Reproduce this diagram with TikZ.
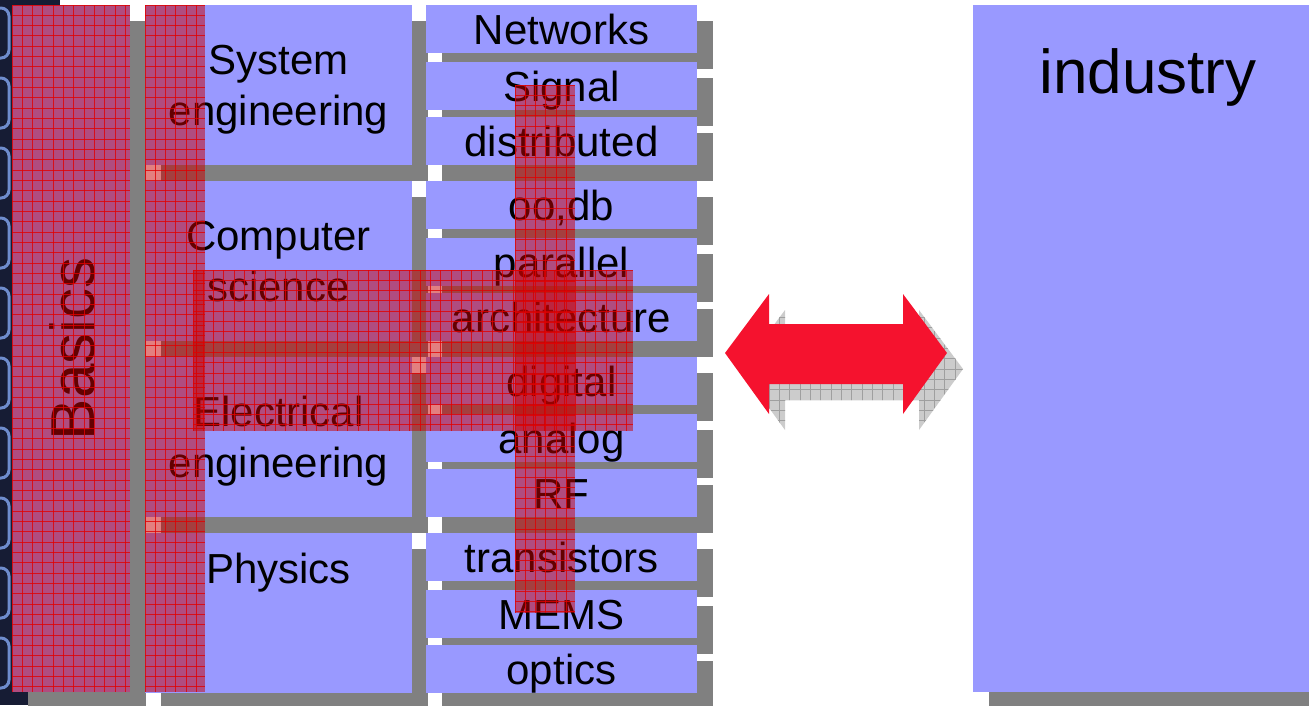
\documentclass[tikz,border=0pt]{standalone}
\usepackage{fontspec}
\setmainfont{Liberation Sans}
\usepackage{tikz}
\usetikzlibrary{shadows}
\definecolor{boxblue}{RGB}{153,153,255}
\definecolor{shadowgray}{RGB}{128,128,128}
\definecolor{gridred}{RGB}{200,0,0}
\definecolor{linered}{RGB}{225,0,0}
\definecolor{arrowred}{RGB}{245,18,46}
\definecolor{bgnavy}{RGB}{22,28,52}
\definecolor{iconblue}{RGB}{110,140,205}

\begin{document}
\begin{tikzpicture}[x=1pt, y=-1pt,
    box/.style={fill=boxblue, inner sep=0pt,
        drop shadow={shadow xshift=16pt, shadow yshift=-16pt, fill=shadowgray, opacity=1}},
    field/.style={box, minimum width=267pt, minimum height=160pt, align=center,
        text depth=0pt, font=\fontsize{42}{51}\selectfont},
    topic/.style={box, minimum width=271pt, minimum height=48pt,
        text height=30pt, text depth=0pt, font=\fontsize{42}{51}\selectfont},
    bigtext/.style={anchor=base, font=\fontsize{62}{70}\selectfont}]

                \useasboundingbox (0,0) rectangle (1309,705);
                \clip (0,0) rectangle (1309,705);

                % Background strip
                \fill[bgnavy] (0,0) rectangle (60,705);
                \foreach \iy in {0,70,...,700}
                    \draw[iconblue, line width=3pt, rounded corners=8pt] (-12,\iy+8) rectangle (9,\iy+58);

                % Nodes
                \node[box, minimum width=118pt, minimum height=687pt] (basics) at (71,348.5) {};
                \node[bigtext, rotate=90] (basicslabel) at (94,349) {Basics};

                \node[field] (syseng) at (278.5,85) {System\\engineering};
                \node[field] (compsci) at (278.5,261) {Computer\\science};
                \node[field] (eleceng) at (278.5,437) {Electrical\\engineering};
                \node[field] (phys) at (278.5,613) {};
                \node[anchor=base, font=\fontsize{42}{51}\selectfont] (physlabel) at (278.5,583) {Physics};

                \node[topic] (networks) at (561.5,29) {Networks};
                \node[topic] (signal) at (561.5,86) {Signal};
                \node[topic] (distrib) at (561.5,141) {distributed};
                \node[topic] (oodb) at (561.5,205) {oo,db};
                \node[topic] (parallel) at (561.5,262) {parallel};
                \node[topic] (archi) at (561.5,317) {architecture};
                \node[topic] (digital) at (561.5,381) {digital};
                \node[topic] (analog) at (561.5,438) {analog};
                \node[topic] (rf) at (561.5,493) {RF};
                \node[topic] (transist) at (561.5,557) {transistors};
                \node[topic] (mems) at (561.5,614) {MEMS};
                \node[topic] (optics) at (561.5,669) {optics};

                \node[box, minimum width=357pt, minimum height=687pt] (industry) at (1151.5,348.5) {};
                \node[bigtext] (industrylabel) at (1148,93) {industry};

                % Arrows
                \begin{scope}[shift={(16,16)}]
                    \path[fill=gray!40] (725,353) -- (769,294) -- (769,324) -- (903,324) -- (903,294)
                        -- (947,353) -- (903,414) -- (903,384) -- (769,384) -- (769,414) -- cycle;
                    \clip (725,353) -- (769,294) -- (769,324) -- (903,324) -- (903,294)
                        -- (947,353) -- (903,414) -- (903,384) -- (769,384) -- (769,414) -- cycle;
                    \foreach \k in {0,...,22}
                        \draw[gray!75, line width=0.8pt] (722+\k*10.33,290) -- ++(0,130);
                    \foreach \k in {0,...,12}
                        \draw[gray!75, line width=0.8pt] (720,291+\k*10.33) -- ++(230,0);
                \end{scope}
                \fill[arrowred] (725,353) -- (769,294) -- (769,324) -- (903,324) -- (903,294)
                    -- (947,353) -- (903,414) -- (903,384) -- (769,384) -- (769,414) -- cycle;

                % Red grids
                \foreach \xa/\ya/\xb/\yb in {12/5/130/692, 145/5/205/692, 193/270/633/431, 515/85/575/613} {
                    \fill[gridred, opacity=0.5] (\xa,\ya) rectangle (\xb,\yb);
                    \begin{scope}
                        \clip (\xa,\ya) rectangle (\xb,\yb);
                        \foreach \k in {0,...,67} {
                            \draw[linered, opacity=0.8, line width=1pt] (\xa+\k*10.33,\ya) -- (\xa+\k*10.33,\yb);
                            \draw[linered, opacity=0.8, line width=1pt] (\xa,\ya+\k*10.33) -- (\xb,\ya+\k*10.33);
                        }
                    \end{scope}
                }
            \end{tikzpicture}
\end{document}
